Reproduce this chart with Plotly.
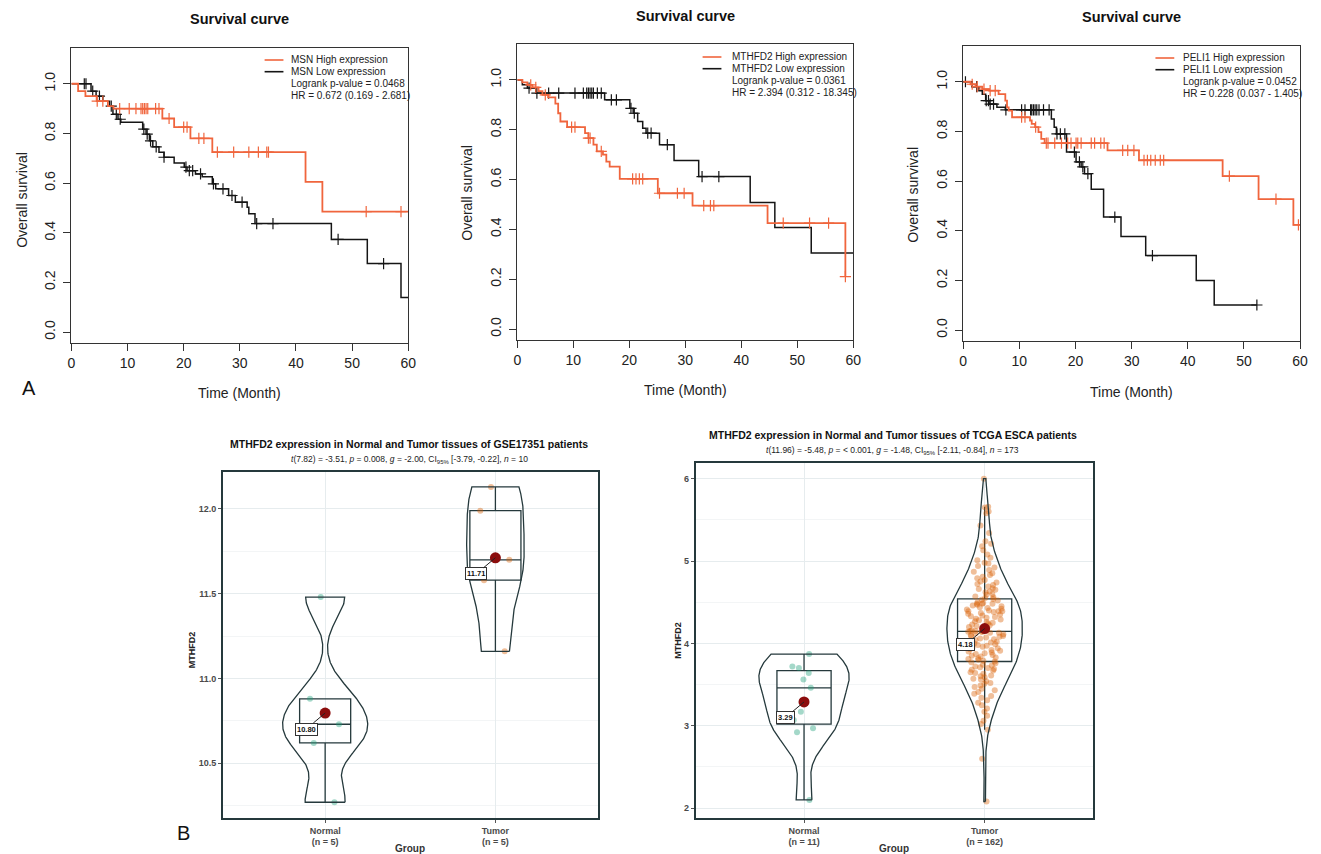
import numpy as np
import plotly.graph_objects as go

W, H = 1321, 854

# ---------------- Panel A: survival curves (event times, survival after event) ----------------
months_ticks = [0, 10, 20, 30, 40, 50, 60]
surv_ticks = [0.0, 0.2, 0.4, 0.6, 0.8, 1.0]

msn_high_t = [1.2, 2.5, 4.5, 6.5, 7.5, 16.2, 18.3, 21.2, 25.1, 41.7, 44.7]
msn_high_s = [0.97, 0.95, 0.93, 0.91, 0.90, 0.86, 0.825, 0.78, 0.725, 0.605, 0.485]
msn_high_end = 60
msn_high_cens = [4.6, 5.6, 8.6, 10.3, 11.5, 12.4, 12.7, 13.0, 13.3, 13.6, 15.0, 15.6, 17.4, 20.0,
                 20.6, 22.7, 23.6, 26.0, 28.9, 31.6, 33.3, 34.8, 35.1, 52.5, 58.7]
msn_low_t = [3.5, 4.4, 5.6, 6.8, 7.4, 8.3, 8.8, 12.7, 13.3, 13.9, 14.5, 15.6, 16.5, 18.3, 20.1, 20.6,
             22.1, 23.3, 25.1, 25.7, 28.0, 29.2, 31.3, 31.6, 32.7, 46.3, 52.7, 58.7]
msn_low_s = [0.97, 0.95, 0.93, 0.91, 0.877, 0.857, 0.845, 0.817, 0.797, 0.77, 0.746, 0.724, 0.704, 0.681,
             0.664, 0.65, 0.637, 0.626, 0.597, 0.577, 0.55, 0.523, 0.503, 0.477, 0.437, 0.373, 0.276, 0.139]
msn_low_end = 60
msn_low_cens = [2.3, 2.6, 3.8, 5.0, 7.1, 8.0, 8.7, 12.9, 13.5, 14.1, 15.1, 16.5, 20.4, 21.0, 21.6, 23.0,
                25.3, 27.0, 28.6, 30.4, 33.0, 35.9, 47.5, 55.6]

mthfd2_high_t = [0.9, 1.8, 2.7, 3.8, 4.5, 5.5, 6.8, 7.3, 7.7, 8.9, 12.1, 12.7, 13.6, 14.2, 15.3, 15.9,
                 16.5, 18.3, 25.1, 31.3, 44.7, 58.6]
mthfd2_high_s = [0.99, 0.98, 0.97, 0.955, 0.94, 0.93, 0.905, 0.866, 0.833, 0.81, 0.786, 0.766, 0.74,
                 0.713, 0.70, 0.672, 0.652, 0.603, 0.545, 0.495, 0.425, 0.21]
mthfd2_high_end = 58.6
mthfd2_high_cens = [2.4, 3.3, 5.0, 9.7, 10.3, 12.7, 13.0, 15.0, 20.6, 21.2, 21.8, 22.4, 25.4, 28.6,
                    29.8, 33.3, 34.5, 35.1, 47.5, 52.2, 55.6, 58.6]
mthfd2_low_t = [0.9, 1.8, 3.3, 15.6, 20.1, 20.7, 21.5, 22.4, 23.0, 25.4, 28.0, 32.4, 41.6, 46.0, 52.5]
mthfd2_low_s = [0.98, 0.967, 0.947, 0.92, 0.886, 0.866, 0.833, 0.806, 0.786, 0.74, 0.676, 0.612,
                0.508, 0.408, 0.305]
mthfd2_low_end = 60
mthfd2_low_cens = [2.1, 3.5, 5.6, 7.4, 10.3, 11.8, 12.4, 12.7, 13.0, 13.3, 13.6, 14.3, 15.0, 16.8,
                   17.7, 20.3, 20.9, 23.3, 23.9, 26.8, 33.0, 36.0]

peli1_high_t = [1.3, 2.2, 3.4, 4.6, 6.3, 7.5, 7.8, 8.1, 8.7, 11.9, 12.2, 12.8, 13.4, 13.9, 14.5,
                25.7, 31.3, 46.2, 52.6, 58.8]
peli1_high_s = [0.99, 0.98, 0.97, 0.964, 0.95, 0.924, 0.897, 0.884, 0.857, 0.844, 0.83, 0.817, 0.797,
                0.77, 0.753, 0.724, 0.684, 0.62, 0.527, 0.424]
peli1_high_end = 60
peli1_high_cens = [1.6, 2.5, 3.7, 4.8, 5.7, 10.4, 11.0, 12.9, 14.8, 15.1, 16.3, 17.5, 18.6, 19.2,
                   20.1, 20.4, 21.0, 22.8, 23.4, 24.5, 25.1, 28.4, 29.3, 30.4, 32.2, 32.8, 33.4,
                   34.2, 35.1, 35.7, 47.4, 55.7, 59.7]
peli1_low_t = [1.6, 2.8, 3.4, 4.0, 4.6, 6.0, 7.5, 15.7, 16.2, 16.6, 18.4, 20.1, 21.0, 21.6, 22.8,
               25.0, 28.1, 32.5, 41.5, 44.7]
peli1_low_s = [0.98, 0.964, 0.95, 0.924, 0.91, 0.897, 0.887, 0.85, 0.817, 0.79, 0.717, 0.677, 0.657,
               0.63, 0.567, 0.455, 0.377, 0.30, 0.20, 0.101]
peli1_low_end = 52.3
peli1_low_cens = [0.4, 2.4, 4.1, 4.5, 4.8, 5.4, 7.6, 10.4, 11.0, 12.0, 12.2, 12.5, 12.8, 13.1, 13.5,
                  14.3, 15.3, 16.7, 17.3, 18.1, 19.8, 20.7, 21.3, 22.2, 27.0, 33.7, 52.3]

genes = ["MSN", "MTHFD2", "PELI1"]
logrank_p = ["0.0468", "0.0361", "0.0452"]
hr_text = ["0.672 (0.169 - 2.681)", "2.394 (0.312 - 18.345)", "0.228 (0.037 - 1.405)"]

# ---------------- Panel B: expression values ----------------
gse_normal = [10.27, 10.62, 10.73, 10.88, 11.48]
gse_tumor = [11.16, 11.58, 11.70, 11.99, 12.13]

tcga_normal = [2.10, 2.92, 2.97, 3.07, 3.17, 3.46, 3.56, 3.64, 3.70, 3.72, 3.87]
tcga_tumor = [
    2.08, 2.60, 2.95,
    3.02, 3.06, 3.12, 3.17, 3.21, 3.25, 3.28,
    3.31, 3.34, 3.36, 3.39, 3.41, 3.43, 3.45, 3.47, 3.49,
    3.51, 3.52, 3.54, 3.56, 3.57, 3.59,
    3.60, 3.61, 3.63, 3.64, 3.65, 3.67, 3.68, 3.69,
    3.70, 3.71, 3.72, 3.73, 3.74, 3.76, 3.77, 3.78, 3.79,
    3.80, 3.81, 3.82, 3.83, 3.84, 3.85, 3.86, 3.87, 3.88, 3.89,
    3.90, 3.91, 3.92, 3.93, 3.94, 3.95, 3.96, 3.97, 3.98, 3.99,
    4.00, 4.01, 4.02, 4.03, 4.04, 4.05, 4.06, 4.07, 4.08, 4.09, 4.09,
    4.10, 4.11, 4.12, 4.13, 4.13, 4.14, 4.14, 4.14, 4.15, 4.15, 4.16,
    4.20, 4.21, 4.22, 4.23, 4.24, 4.25, 4.26, 4.27, 4.28, 4.29,
    4.30, 4.31, 4.32, 4.33, 4.34, 4.35, 4.36, 4.37, 4.38, 4.39, 4.39,
    4.39, 4.40, 4.41, 4.42, 4.43, 4.44, 4.45, 4.46, 4.47, 4.48, 4.48,
    4.48, 4.49, 4.50, 4.52, 4.53, 4.54, 4.55, 4.56, 4.57,
    4.59, 4.60, 4.62, 4.63, 4.65, 4.66, 4.67,
    4.69, 4.71, 4.72, 4.74, 4.75, 4.77,
    4.79, 4.81, 4.83, 4.85, 4.87,
    4.89, 4.92, 4.94, 4.97,
    4.98, 5.01, 5.04, 5.08, 5.13,
    5.18, 5.21, 5.24, 5.34, 5.43,
    5.58, 5.60, 5.65, 5.66, 6.00,
]
groups = ["Normal", "Tumor"]
b_titles = ["MTHFD2 expression in Normal and Tumor tissues of GSE17351 patients",
            "MTHFD2 expression in Normal and Tumor tissues of TCGA ESCA patients"]
b_subtitles = [
    "<i>t</i>(7.82) = -3.51, <i>p</i> = 0.008, <i>g</i> = -2.00, CI<sub>95%</sub> [-3.79, -0.22], <i>n</i> = 10",
    "<i>t</i>(11.96) = -5.48, <i>p</i> = < 0.001, <i>g</i> = -1.48, CI<sub>95%</sub> [-2.11, -0.84], <i>n</i> = 173",
]

# ---------------- helpers ----------------
def px(x):
    return x / W

def py(y):
    return 1 - y / H

ORANGE = "#F0653D"
BLACK = "#151515"
FONT = "Liberation Sans, Arial, sans-serif"
DARK = "#25393C"

fig = go.Figure()
annotations = []
shapes = []
layout_axes = {}

def note(x, y, text, size, color="#222", angle=0, xanchor="center", yanchor="middle"):
    annotations.append(dict(x=px(x), y=py(y), xref="paper", yref="paper", showarrow=False,
                            xanchor=xanchor, yanchor=yanchor, text=text, textangle=angle,
                            font=dict(family=FONT, size=size, color=color)))

def surv_at(t, s, c):
    idx = np.searchsorted(np.array(t), np.array(c), side="right")
    sv = np.concatenate([[1.0], np.array(s)])
    return sv[idx]

surv_sets = [
    (msn_high_t, msn_high_s, msn_high_end, msn_high_cens, msn_low_t, msn_low_s, msn_low_end, msn_low_cens),
    (mthfd2_high_t, mthfd2_high_s, mthfd2_high_end, mthfd2_high_cens,
     mthfd2_low_t, mthfd2_low_s, mthfd2_low_end, mthfd2_low_cens),
    (peli1_high_t, peli1_high_s, peli1_high_end, peli1_high_cens,
     peli1_low_t, peli1_low_s, peli1_low_end, peli1_low_cens),
]

# pixel boxes for the top panels: (left, right, top, bottom)
top_boxes = [(68, 408, 48, 343), (518, 857, 44, 340), (968, 1308, 46, 341)]
top_title_pos = [(238, 19), (688, 16), (1138, 17)]
top_ylab_pos = [(18, 200), (467, 193), (917, 195)]
top_xlab_pos = [(238, 393), (688, 390), (1138, 392)]
legend_pos = [(263, 288, 60), (705, 733, 57), (1162, 1188, 58)]

for i, (ht, hs, he, hc, lt, ls, le, lc) in enumerate(surv_sets):
    n = i + 1
    xa = "x" if n == 1 else f"x{n}"
    ya = "y" if n == 1 else f"y{n}"
    for (t, s, e, c, col, w) in [(lt, ls, le, lc, BLACK, 1.5), (ht, hs, he, hc, ORANGE, 1.8)]:
        fig.add_trace(go.Scatter(
            x=[0] + list(t) + [e], y=[1.0] + list(s) + [s[-1]],
            mode="lines", line=dict(color=col, width=w, shape="hv"),
            xaxis=xa, yaxis=ya, showlegend=False, hoverinfo="skip"))
        fig.add_trace(go.Scatter(
            x=c, y=surv_at(t, s, c), mode="markers",
            marker=dict(symbol="cross-thin", size=8, line=dict(color=col, width=1.2)),
            xaxis=xa, yaxis=ya, showlegend=False, hoverinfo="skip"))
    l, r, tp, bt = top_boxes[i]
    axis_common = dict(showline=True, linecolor="#333333", linewidth=1, mirror=True,
                       ticks="outside", ticklen=7, tickcolor="#333333", showgrid=False,
                       zeroline=False, tickfont=dict(family=FONT, size=14, color="#222222"))
    layout_axes["xaxis" if n == 1 else f"xaxis{n}"] = dict(
        domain=[px(l), px(r)], anchor=ya, range=[0, 60], tickvals=months_ticks, **axis_common)
    layout_axes["yaxis" if n == 1 else f"yaxis{n}"] = dict(
        domain=[py(bt), py(tp)], anchor=xa, range=[-0.044, 1.144], tickvals=surv_ticks,
        tickformat=".1f", tickangle=-90, ticklabelstandoff=3, **axis_common)
    note(*top_title_pos[i], "<b>Survival curve</b>", 14.5, "#111")
    note(*top_ylab_pos[i], "Overall survival", 14, angle=-90)
    note(*top_xlab_pos[i], "Time (Month)", 14)
    kl, tx0, ty0 = legend_pos[i]
    g = genes[i]
    lines_txt = [f"{g} High expression", f"{g} Low expression",
                 f"Logrank p-value = {logrank_p[i]}", f"HR = {hr_text[i]}"]
    for j, txt in enumerate(lines_txt):
        yy0 = ty0 + j * 11.7
        note(tx0, yy0, txt, 10, xanchor="left")
        if j < 2:
            shapes.append(dict(type="line", xref="paper", yref="paper",
                               x0=px(kl), x1=px(kl + 19), y0=py(yy0), y1=py(yy0),
                               line=dict(color=ORANGE if j == 0 else BLACK, width=1.6)))

note(25, 388, "A", 20, "#111")
note(181, 833, "B", 20, "#111")

# ---------------- Panel B: violins ----------------
def nrd0(v):
    v = np.asarray(v, dtype=float)
    sd = np.std(v, ddof=1)
    iqr = np.subtract(*np.percentile(v, [75, 25]))
    return 0.9 * min(sd, iqr / 1.34) * len(v) ** (-0.2)

def kde_path(v):
    v = np.asarray(v, dtype=float)
    bw = nrd0(v)
    grid = np.linspace(v.min(), v.max(), 256)
    dens = np.exp(-0.5 * ((grid[:, None] - v[None, :]) / bw) ** 2).sum(axis=1)
    dens /= (len(v) * bw * np.sqrt(2 * np.pi))
    return grid, dens

b_sets = [(gse_normal, gse_tumor), (tcga_normal, tcga_tumor)]
b_boxes = [(221, 599, 472, 818), (698, 1099, 463, 818)]
b_yrange = [[10.177, 12.218], [1.88, 6.19]]
b_ydtick = [0.5, 1.0]
b_yfmt = [".1f", "d"]
b_title_pos = [(409, 444, 459), (897, 435, 450)]
b_ylab_pos = [(190, 650), (680, 640)]
b_xlab_pos = [(410, 848), (898, 848)]
PT_COLORS = ["rgba(27,158,119,0.4)", "rgba(217,95,2,0.4)"]
VIOLIN_HALF = 0.25

for k, (dn, dt) in enumerate(b_sets):
    n = 4 + k
    xa, ya = f"x{n}", f"y{n}"
    paths = [kde_path(d) for d in (dn, dt)]
    dmax = max(p[1].max() for p in paths)  # ggplot "area" scaling: common density scale
    for gi, data in enumerate([dn, dt]):
        pos = gi + 1
        grid, dens = paths[gi]
        half = dens / dmax * VIOLIN_HALF
        vx = np.concatenate([pos + half, (pos - half)[::-1], [pos + half[0]]])
        vy = np.concatenate([grid, grid[::-1], [grid[0]]])
        fig.add_trace(go.Scatter(
            x=vx, y=vy, mode="lines", line=dict(color=DARK, width=1.3),
            xaxis=xa, yaxis=ya, showlegend=False, hoverinfo="skip"))
        fig.add_trace(go.Box(
            x=[pos] * len(data), y=data, xaxis=xa, yaxis=ya, width=0.3,
            boxpoints="all", jitter=0.7, pointpos=0, quartilemethod="inclusive",
            marker=dict(color=PT_COLORS[gi], size=6, line=dict(width=0)),
            whiskerwidth=0, fillcolor="rgba(255,255,255,0)",
            line=dict(color=DARK, width=1.3), showlegend=False, hoverinfo="skip"))
        m = float(np.mean(data))
        fig.add_trace(go.Scatter(
            x=[pos], y=[m], mode="markers", xaxis=xa, yaxis=ya,
            marker=dict(color="#8B0D0D", size=11), showlegend=False, hoverinfo="skip"))
        annotations.append(dict(
            x=pos, y=m, xref=xa, yref=ya, text=f"<b>{m:.2f}</b>", showarrow=True,
            arrowhead=0, arrowwidth=1, arrowcolor="#222", ax=-19, ay=16,
            bgcolor="white", bordercolor="#333", borderwidth=1, borderpad=1,
            font=dict(family=FONT, size=7.5, color="#111")))
    l, r, tp, bt = b_boxes[k]
    b_common = dict(showline=True, linecolor=DARK, linewidth=1.8, mirror=True,
                    ticks="outside", ticklen=3, tickcolor="#555", zeroline=False,
                    showgrid=True, gridcolor="#E6ECEE", gridwidth=0.7,
                    tickfont=dict(family=FONT, size=9, color="#4A4A4A"))
    layout_axes[f"xaxis{n}"] = dict(
        domain=[px(l), px(r)], anchor=ya, range=[0.4, 2.6], tickvals=[1, 2],
        ticktext=[f"<b>{groups[0]}</b><br><b>(n = {len(dn)})</b>",
                  f"<b>{groups[1]}</b><br><b>(n = {len(dt)})</b>"], **b_common)
    layout_axes[f"yaxis{n}"] = dict(
        domain=[py(bt), py(tp)], anchor=xa, range=b_yrange[k], dtick=b_ydtick[k],
        tickformat=b_yfmt[k], tickprefix="<b>", ticksuffix="</b>",
        minor=dict(showgrid=True, gridcolor="#F3F5F6", gridwidth=0.6, dtick=b_ydtick[k] / 2),
        **b_common)
    tx, ty, sy = b_title_pos[k]
    note(tx, ty, f"<b>{b_titles[k]}</b>", 10.5, "#111")
    note(tx, sy, b_subtitles[k], 8.5)
    note(*b_ylab_pos[k], "<b>MTHFD2</b>", 9, angle=-90)
    note(*b_xlab_pos[k], "<b>Group</b>", 10, "#333")

fig.update_layout(
    width=W, height=H, autosize=False,
    margin=dict(l=0, r=0, t=0, b=0),
    paper_bgcolor="white", plot_bgcolor="white",
    showlegend=False, annotations=annotations, shapes=shapes,
    boxmode="overlay",
    font=dict(family=FONT),
    **layout_axes,
)

fig.write_html("out.html", config={"displayModeBar": False},
               post_script="document.body.style.margin='0px';")
